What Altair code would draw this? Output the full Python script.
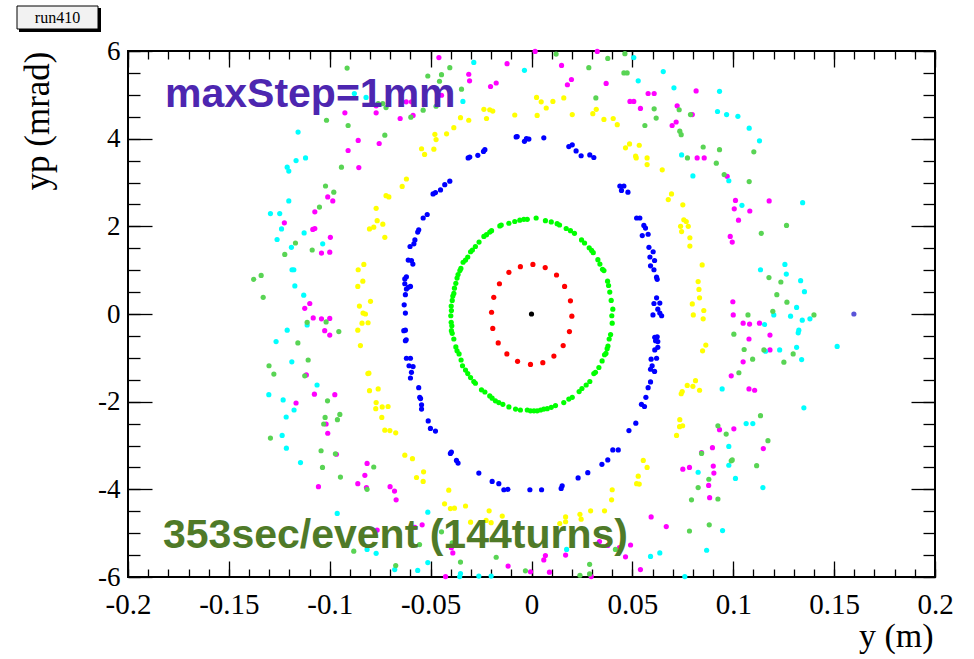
import altair as alt
import pandas as pd

# ---------------- data (y in m, yp in mrad) ----------------
black_pts = [(0.0, 0.0)]

red_pts = [(0.0007, 1.13), (-0.0055, 1.08), (0.0068, 1.06), (-0.0112, 0.95), (0.0124, 0.89),
           (-0.0159, 0.69), (0.0164, 0.63), (-0.0187, 0.38), (0.0193, 0.30), (-0.0198, 0.04),
           (0.0200, -0.05), (-0.0192, -0.33), (0.0188, -0.40), (-0.0165, -0.66), (0.0157, -0.72),
           (-0.0122, -0.91), (0.0111, -0.96), (-0.0069, -1.08), (-0.0005, -1.15), (0.0056, -1.11)]

green_pts = [(0.0023, 2.19), (-0.0021, 2.16), (-0.0038, 2.16), (-0.0058, 2.14), (-0.0083, 2.11),
             (-0.0112, 2.07), (-0.0150, 2.03), (-0.0157, 2.01), (0.0069, 2.13), (0.0098, 2.10),
             (0.0127, 2.06), (0.0139, 2.03), (0.0172, 1.95), (0.0193, 1.90), (0.0213, 1.84),
             (0.0248, 1.69), (0.0263, 1.62), (0.0286, 1.51), (0.0298, 1.45), (0.0306, 1.40),
             (0.0329, 1.24), (0.0339, 1.14), (0.0352, 1.02), (0.0359, 0.99), (0.0377, 0.75),
             (0.0382, 0.65), (0.0388, 0.50), (0.0395, 0.31), (0.0403, 0.11), (0.0398, -0.04),
             (0.0400, -0.21), (0.0392, -0.47), (0.0385, -0.57), (0.0379, -0.73), (0.0375, -0.79),
             (0.0369, -0.90), (0.0362, -0.93), (0.0350, -1.07), (0.0334, -1.22), (0.0317, -1.33),
             (0.0309, -1.36), (0.0289, -1.54), (0.0271, -1.62), (0.0250, -1.70), (0.0236, -1.77),
             (0.0202, -1.90), (0.0185, -1.94), (0.0160, -2.02), (0.0119, -2.09), (0.0098, -2.13),
             (0.0078, -2.16), (0.0061, -2.17), (0.0045, -2.19), (0.0028, -2.21), (0.0012, -2.21),
             (-0.0005, -2.21), (-0.0021, -2.19), (-0.0055, -2.19), (-0.0079, -2.17), (-0.0112, -2.12),
             (-0.0142, -2.06), (-0.0162, -2.02), (-0.0179, -1.98), (-0.0195, -1.92), (-0.0207, -1.87),
             (-0.0231, -1.78), (-0.0248, -1.73), (-0.0278, -1.58), (-0.0286, -1.54), (-0.0302, -1.45),
             (-0.0316, -1.36), (-0.0327, -1.28), (-0.0342, -1.18), (-0.0349, -1.05), (-0.0359, -0.91),
             (-0.0369, -0.84), (-0.0375, -0.75), (-0.0385, -0.57), (-0.0393, -0.44), (-0.0397, -0.38),
             (-0.0395, -0.27), (-0.0398, -0.19), (-0.0400, -0.04), (-0.0397, 0.08), (-0.0398, 0.18),
             (-0.0393, 0.31), (-0.0390, 0.41), (-0.0385, 0.47), (-0.0382, 0.59), (-0.0375, 0.70),
             (-0.0369, 0.82), (-0.0364, 0.90), (-0.0355, 0.99), (-0.0350, 1.04), (-0.0339, 1.18),
             (-0.0327, 1.23), (-0.0316, 1.30), (-0.0302, 1.42), (-0.0293, 1.46), (-0.0278, 1.54),
             (-0.0260, 1.64), (-0.0236, 1.77), (-0.0223, 1.81), (-0.0207, 1.87), (-0.0198, 1.90)]

blue_pts = [(-0.0076, 4.04), (-0.0071, 4.05), (-0.0035, 3.94), (-0.0025, 4.00), (-0.0013, 3.99),
            (-0.0231, 3.75), (-0.0238, 3.71), (-0.0266, 3.62), (-0.0306, 3.58), (-0.0314, 3.56),
            (-0.0405, 3.03), (-0.0430, 2.95), (-0.0451, 2.83), (-0.0476, 2.77), (-0.0488, 2.74),
            (-0.0517, 2.27), (-0.0537, 2.19), (-0.0559, 1.92), (-0.0564, 1.87), (-0.0578, 1.69),
            (-0.0583, 1.60), (-0.0602, 1.54), (-0.0611, 1.23), (-0.0595, 1.22), (-0.0588, 1.14),
            (-0.0620, 0.85), (-0.0628, 0.80), (-0.0628, 0.69), (-0.0600, 0.63), (-0.0610, 0.61),
            (-0.0620, 0.57), (-0.0625, 0.44), (-0.0631, 0.21), (-0.0625, 0.02),
            (-0.0633, -0.38), (-0.0625, -0.37), (-0.0621, -0.59), (-0.0625, -0.61), (-0.0620, -1.01),
            (-0.0600, -1.01), (-0.0607, -1.18), (-0.0587, -1.20), (-0.0595, -1.33), (-0.0600, -1.46),
            (-0.0559, -1.68), (-0.0554, -1.90), (-0.0550, -1.93), (-0.0545, -2.07), (-0.0545, -2.17),
            (-0.0512, -2.44), (-0.0501, -2.61), (-0.0476, -2.67), (-0.0397, -3.15), (-0.0402, -3.18),
            (-0.0372, -3.34), (-0.0364, -3.40), (-0.0261, -3.63), (-0.0195, -3.82), (-0.0162, -3.87),
            (-0.0137, -4.01), (-0.0117, -4.00), (-0.0008, -4.01),
            (0.0061, 4.02), (0.0185, 3.82), (0.0202, 3.86), (0.0221, 3.72), (0.0246, 3.61),
            (0.0289, 3.63), (0.0309, 3.57), (0.0438, 2.92), (0.0458, 2.92), (0.0446, 2.82),
            (0.0478, 2.78), (0.0521, 2.19), (0.0537, 2.19), (0.0557, 2.02), (0.0565, 1.96),
            (0.0549, 1.79), (0.0578, 1.82), (0.0582, 1.52), (0.0603, 1.42), (0.0587, 1.30),
            (0.0610, 1.22), (0.0590, 1.10), (0.0607, 1.01), (0.0620, 0.84), (0.0623, 0.79),
            (0.0620, 0.37), (0.0636, 0.25), (0.0607, 0.24), (0.0626, 0.11), (0.0636, 0.02),
            (0.0645, -0.04), (0.0602, -0.02),
            (0.0611, -0.53), (0.0623, -0.52), (0.0615, -0.61), (0.0626, -0.63), (0.0611, -0.82),
            (0.0626, -0.76), (0.0620, -1.01), (0.0593, -1.03), (0.0590, -1.26), (0.0598, -1.18),
            (0.0610, -1.31), (0.0590, -1.55), (0.0578, -1.68), (0.0567, -1.90), (0.0545, -2.06),
            (0.0560, -2.11), (0.0517, -2.49), (0.0483, -2.66), (0.0403, -3.10), (0.0430, -3.10),
            (0.0378, -3.33), (0.0349, -3.43), (0.0279, -3.62), (0.0231, -3.74), (0.0152, -3.92),
            (0.0147, -3.98), (0.0050, -4.01)]

yellow_pts = [(0.0025, 4.94), (0.0028, 4.53), (-0.0083, 4.54), (-0.0236, 4.67), (-0.0207, 4.66),
              (-0.0192, 4.63), (-0.0223, 4.46), (-0.0311, 4.42), (-0.0352, 4.48), (-0.0385, 4.25),
              (-0.0421, 4.11), (-0.0479, 4.10), (-0.0473, 3.98), (-0.0484, 3.76), (-0.0530, 3.64),
              (-0.0545, 3.77), (-0.0620, 3.08), (-0.0641, 2.91), (-0.0721, 2.70), (-0.0707, 2.67),
              (-0.0770, 2.41), (-0.0765, 2.13), (-0.0737, 2.05), (-0.0782, 1.98), (-0.0803, 1.94),
              (-0.0727, 1.75), (-0.0831, 1.13), (-0.0859, 1.01), (-0.0836, 0.75), (-0.0861, 0.63),
              (-0.0798, 0.29), (-0.0853, 0.18), (-0.0835, 0.02), (-0.0823, 0.00),
              (-0.0810, -0.20), (-0.0840, -0.21), (-0.0861, -0.37), (-0.0848, -0.72), (-0.0806, -1.35),
              (-0.0811, -1.36), (-0.0803, -1.75), (-0.0760, -1.71), (-0.0770, -2.02), (-0.0772, -2.16),
              (-0.0740, -2.12), (-0.0711, -2.11), (-0.0742, -2.36), (-0.0727, -2.65), (-0.0702, -2.66),
              (-0.0673, -2.71), (-0.0628, -3.22), (-0.0590, -3.30), (-0.0570, -3.73), (-0.0535, -3.60),
              (-0.0537, -3.82), (-0.0410, -4.02), (-0.0431, -4.33), (-0.0402, -4.44), (-0.0382, -4.43),
              (-0.0327, -4.38), (-0.0302, -4.75), (-0.0225, -4.71), (-0.0210, -4.49), (-0.0200, -4.76),
              (-0.0145, -4.61),
              (0.0048, 4.84), (0.0073, 4.70), (0.0106, 4.85), (0.0160, 4.93), (0.0202, 4.55),
              (0.0304, 4.57), (0.0321, 4.67), (0.0359, 4.44), (0.0405, 4.46), (0.0425, 4.32),
              (0.0466, 3.79), (0.0486, 3.88), (0.0534, 3.85), (0.0516, 3.60), (0.0519, 3.56),
              (0.0573, 3.56), (0.0573, 3.41), (0.0648, 3.29), (0.0694, 2.74), (0.0678, 2.61),
              (0.0750, 2.49), (0.0755, 2.15), (0.0767, 2.11), (0.0739, 2.00), (0.0777, 2.00),
              (0.0744, 1.88), (0.0785, 1.74), (0.0785, 1.55), (0.0846, 1.12), (0.0826, 0.74),
              (0.0830, 0.56), (0.0833, 0.37), (0.0797, 0.23), (0.0854, 0.08), (0.0802, -0.02),
              (0.0851, -0.11),
              (0.0864, -0.71), (0.0848, -0.84), (0.0813, -1.52), (0.0800, -1.65), (0.0772, -1.63),
              (0.0833, -1.74), (0.0747, -1.77), (0.0742, -1.82), (0.0735, -2.41), (0.0734, -2.57),
              (0.0749, -2.55), (0.0719, -2.77), (0.0554, -3.34), (0.0573, -3.50), (0.0529, -3.70),
              (0.0521, -3.87), (0.0534, -3.88), (0.0400, -4.01), (0.0397, -4.24), (0.0362, -4.49),
              (0.0293, -4.49), (0.0240, -4.57), (0.0246, -4.68), (0.0169, -4.63), (0.0169, -4.74),
              (0.0140, -4.78)]

magenta_pts = [(-0.0459, 5.85), (-0.0311, 5.47), (-0.0307, 5.32), (-0.0203, 5.19), (-0.0175, 5.27),
               (-0.0121, 5.71), (0.0018, 5.99), (-0.0621, 4.84), (-0.0595, 4.84), (-0.0446, 4.99),
               (-0.0770, 4.75), (-0.0770, 4.59), (-0.0925, 4.59), (-0.0651, 4.46), (-0.0587, 4.53),
               (-0.0859, 3.96), (-0.0755, 3.89), (-0.0909, 3.73), (-0.0856, 3.34), (-0.1010, 2.67),
               (-0.0985, 2.58), (-0.1074, 2.33), (-0.1225, 2.08), (-0.1084, 1.93), (-0.1074, 1.95),
               (-0.0997, 1.75), (-0.1041, 1.39), (-0.1000, 1.41), (-0.1099, 0.24), (-0.1124, 0.13),
               (-0.1082, -0.09), (-0.1041, -0.11), (-0.1000, -0.10),
               (-0.1025, -0.38), (-0.1000, -0.48), (-0.1116, -1.39), (-0.1167, -2.03), (-0.1076, -1.83),
               (-0.0975, -1.84), (-0.1018, -2.51), (-0.1010, -2.72), (-0.0967, -3.20), (-0.0815, -3.41),
               (-0.0826, -3.68), (-0.0818, -3.96), (-0.0861, -3.87), (-0.1056, -3.94), (-0.0701, -3.94),
               (-0.0679, -4.04), (-0.0671, -4.24), (-0.0765, -4.93), (-0.0578, -4.87), (-0.0542, -4.81),
               (-0.0397, -5.33), (-0.0390, -5.45), (-0.0426, -5.99), (-0.0116, -5.75),
               (0.0149, 5.67), (0.0326, 5.99), (0.0198, 5.35), (0.0178, 5.23), (0.0370, 5.26),
               (0.0578, 5.03), (0.0608, 5.03), (0.0488, 4.85), (0.0507, 4.85), (0.0540, 4.69),
               (0.0722, 4.75), (0.0816, 5.09), (0.0797, 4.55), (0.0697, 4.30), (0.0717, 4.38),
               (0.0821, 3.56), (0.0856, 3.56), (0.0970, 3.14), (0.1011, 2.59), (0.1005, 2.40),
               (0.1178, 2.58), (0.1082, 2.35), (0.1026, 2.14), (0.0985, 1.77), (0.0995, 1.64),
               (0.0998, 0.28), (0.1000, -0.02),
               (0.1049, -0.21), (0.1081, -0.23), (0.1130, -0.21), (0.1182, -0.48), (0.1078, -0.57),
               (0.1182, -0.82), (0.1049, -1.09), (0.0990, -1.41), (0.1078, -1.71), (0.1106, -1.74),
               (0.0932, -2.64), (0.1003, -2.62), (0.0897, -3.05), (0.1149, -3.07), (0.0843, -3.16),
               (0.0901, -3.47), (0.0750, -3.54), (0.0783, -3.50), (0.0904, -3.63), (0.0878, -3.91),
               (0.0883, -4.19), (0.0593, -4.63), (0.0668, -4.85), (0.0337, -5.19), (0.0378, -5.28),
               (0.0436, -5.33), (0.0491, -5.27), (0.0466, -5.54), (0.0069, -5.51), (0.0061, -5.61),
               (0.0169, -5.50), (0.0540, -5.83), (-0.0005, -5.88), (0.0089, -5.89), (0.0296, -5.99)]

cyan_pts = [(-0.0286, 5.74), (-0.0035, 5.56), (-0.0340, 4.85), (-0.0878, 5.03), (-0.0820, 4.94),
            (-0.1157, 4.15), (-0.1167, 3.50), (-0.1120, 3.56), (-0.1211, 3.35), (-0.1203, 3.26),
            (-0.1203, 2.58), (-0.1294, 2.29), (-0.1248, 2.29), (-0.1239, 1.94), (-0.1261, 1.70),
            (-0.1127, 1.85), (-0.1190, 1.52), (-0.1035, 1.60), (-0.1187, 1.01), (-0.1178, 1.01),
            (-0.1173, 0.64), (-0.1129, 0.43),
            (-0.1112, -0.25), (-0.1211, -0.37), (-0.1266, -0.63), (-0.1188, -1.09), (-0.1063, -1.62),
            (-0.1302, -1.84), (-0.1231, -1.96), (-0.1177, -2.19), (-0.1216, -2.35), (-0.1236, -2.77),
            (-0.1215, -3.06), (-0.1145, -3.39), (-0.0963, -4.55), (-0.0514, -4.52), (-0.0815, -5.37),
            (-0.0770, -5.46), (-0.0678, -5.83), (-0.0564, -5.85), (-0.0514, -5.67), (-0.0352, -5.92),
            (-0.0356, -5.99), (-0.0261, -5.98), (-0.0200, -5.98),
            (0.0507, 5.85), (0.0653, 5.53), (0.0529, 5.32), (0.0706, 5.16), (0.0932, 5.08),
            (0.0922, 4.62), (0.0967, 4.55), (0.1023, 4.51), (0.1079, 4.24), (0.1130, 3.95),
            (0.0744, 3.63), (0.0800, 3.15), (0.0978, 3.04), (0.1043, 2.48), (0.1344, 2.54),
            (0.1256, 1.13), (0.1135, 1.01), (0.1263, 0.91), (0.1334, 0.76), (0.1353, 0.51),
            (0.1314, 0.15), (0.1284, -0.05), (0.1201, -0.02), (0.1342, -0.14), (0.1380, -0.11),
            (0.1155, -0.24), (0.1325, -0.37), (0.1322, -0.43), (0.1314, -0.76), (0.1339, -1.04),
            (0.1230, -0.82), (0.1160, -0.85), (0.1515, -0.74), (0.0945, -1.71), (0.1350, -2.14),
            (0.1064, -2.50), (0.1097, -2.50), (0.0978, -3.02), (0.0978, -3.45), (0.0826, -3.61),
            (0.1011, -3.75), (0.1147, -3.96), (0.0947, -4.94), (0.0868, -5.39), (0.0636, -5.45),
            (0.0590, -5.53), (0.0174, -5.37), (0.0760, -5.99)]

lightgreen_pts = [(-0.0914, 5.61), (-0.0514, 5.43), (-0.0446, 5.46), (-0.0456, 5.31), (-0.0405, 5.62),
                  (-0.0347, 5.13), (-0.0760, 4.80), (-0.0737, 4.80), (-0.0721, 4.71), (-0.0537, 4.65),
                  (-0.0598, 4.49), (-0.0473, 4.74), (-0.1016, 4.42), (-0.0909, 4.30), (-0.0727, 4.08),
                  (-0.0942, 3.35), (-0.1021, 2.92), (-0.0980, 2.78), (-0.1051, 2.44), (-0.1170, 1.62),
                  (-0.1087, 1.46), (-0.1223, 1.36), (-0.1377, 0.79), (-0.1340, 0.88), (-0.1330, 0.38),
                  (-0.1112, -0.19), (-0.1018, -0.18), (-0.0955, -0.40), (-0.1158, -0.66), (-0.1107, -1.05),
                  (-0.1301, -1.18), (-0.1277, -1.37), (-0.1124, -1.41), (-0.1011, -1.98), (-0.1023, -2.36),
                  (-0.1030, -2.51), (-0.0962, -2.41), (-0.0950, -2.29), (-0.1294, -2.83), (-0.1043, -3.12),
                  (-0.0972, -3.19), (-0.1036, -3.50), (-0.0947, -3.72), (-0.0782, -3.49), (-0.0815, -4.00),
                  (-0.0881, -5.41), (-0.0673, -5.74), (-0.0555, -5.26), (-0.0446, -4.97), (-0.0393, -5.22),
                  (-0.0352, -5.66), (-0.0175, -5.55), (-0.0030, -5.86),
                  (0.0122, 5.93), (0.0463, 5.94), (0.0378, 5.83), (0.0284, 5.62), (0.0458, 5.50),
                  (0.0474, 5.50), (0.0319, 4.93), (0.0608, 4.68), (0.0618, 4.47), (0.0562, 4.30),
                  (0.0732, 4.66), (0.0788, 4.55), (0.0735, 4.17), (0.0742, 4.09), (0.0851, 3.81),
                  (0.0932, 3.75), (0.0773, 3.56), (0.0916, 3.44), (0.0955, 3.18), (0.1079, 3.02),
                  (0.1102, 3.70), (0.1139, 1.84), (0.1264, 2.02), (0.1177, 0.83), (0.1236, 0.73),
                  (0.1216, 0.44), (0.1266, 0.27), (0.1196, 0.06), (0.1073, -0.02), (0.1400, -0.02),
                  (0.1003, -0.46), (0.1054, -0.81), (0.1096, -1.03), (0.1152, -0.82), (0.1251, -1.10),
                  (0.1297, -0.91), (0.1028, -1.34), (0.1135, -2.32), (0.0965, -2.74), (0.0924, -2.55),
                  (0.1172, -2.89), (0.0843, -3.18), (0.0990, -3.35), (0.0995, -3.33), (0.1116, -3.46),
                  (0.0879, -3.77), (0.0826, -3.96), (0.0793, -4.24), (0.0924, -4.22), (0.0881, -4.81),
                  (0.0783, -4.95), (0.0416, -5.37), (0.0288, -5.71), (0.0240, -5.96), (0.0288, -5.93)]

violet_pts = [(0.1598, 0.0)]

series_names = ["black", "red", "green", "blue", "yellow", "magenta", "cyan", "lightgreen", "violet"]
series_colors = ["#000000", "#ff0000", "#00ff00", "#0000ff", "#ffff00", "#ff00ff", "#00ffff",
                 "#59d454", "#5954d8"]
series_points = [black_pts, red_pts, green_pts, blue_pts, yellow_pts, magenta_pts, cyan_pts,
                 lightgreen_pts, violet_pts]

x_major = [-0.2, -0.15, -0.1, -0.05, 0, 0.05, 0.1, 0.15, 0.2]
x_minor = [round(-0.2 + 0.01 * i, 2) for i in range(41)]
y_major = [-6, -4, -2, 0, 2, 4, 6]
y_minor = [-6 + 0.5 * i for i in range(25)]

x_title = "y (m)"
y_title = "yp (mrad)"
label_step = "maxStep=1mm"
label_time = "353sec/event (144turns)"
hist_name = "run410"

rows = []
for k, (name, pts) in enumerate(zip(series_names, series_points)):
    for (xv, yv) in pts:
        rows.append({"y_m": xv, "yp": yv, "series": name, "k": k})
df = pd.DataFrame(rows)

# ---------------- layout ----------------
W, H = 807, 526
SERIF = "Liberation Serif"
SANS = "Liberation Sans"

xs = alt.Scale(domain=[-0.2, 0.2], nice=False, zero=False)
ys = alt.Scale(domain=[-6, 6], nice=False, zero=False)
lab_expr = "'' + datum.value"


def tick_axis(orient, values, size, offset):
    return alt.Axis(orient=orient, values=values, offset=offset, labels=False, domain=False,
                    ticks=True, tickSize=size, tickWidth=1.3, tickColor="black", grid=False,
                    title=None)


def tick_layer(xo, xv, xsz, yo, yv, ysz):
    return alt.Chart(df).mark_circle(opacity=0, size=1).encode(
        x=alt.X("y_m:Q", scale=xs, axis=tick_axis(xo, xv, xsz, -H)),
        y=alt.Y("yp:Q", scale=ys, axis=tick_axis(yo, yv, ysz, -W)),
    )


t1 = tick_layer("top", x_major, 16, "right", y_major, 24)     # bottom/left inward major
t2 = tick_layer("top", x_minor, 8, "right", y_minor, 12)      # bottom/left inward minor
t3 = tick_layer("bottom", x_major, 16, "left", y_major, 24)   # top/right inward major
t4 = tick_layer("bottom", x_minor, 8, "left", y_minor, 12)    # top/right inward minor

points = alt.Chart(df).mark_circle(size=27, opacity=1).encode(
    x=alt.X("y_m:Q", scale=xs, axis=alt.Axis(
        orient="bottom", values=x_major, labelExpr=lab_expr, ticks=False, tickSize=0,
        domain=False, grid=False, labelFont=SERIF, labelFontSize=29, labelColor="black",
        labelPadding=13, labelFlush=False, labelOverlap=False,
        title=x_title, titleFont=SERIF, titleFontSize=34, titleFontWeight="normal",
        titleColor="black", titleX=805, titleY=69, titleAlign="right",
        titleBaseline="alphabetic")),
    y=alt.Y("yp:Q", scale=ys, axis=alt.Axis(
        orient="left", values=y_major, labelExpr=lab_expr, ticks=False, tickSize=0,
        domain=False, grid=False, labelFont=SERIF, labelFontSize=27, labelColor="black",
        labelPadding=8, labelFlush=False, labelOverlap=False,
        title=y_title, titleFont=SERIF, titleFontSize=35, titleFontWeight="normal",
        titleColor="black", titleX=-80, titleY=0, titleAngle=270, titleAlign="right",
        titleBaseline="alphabetic")),
    color=alt.Color("series:N", scale=alt.Scale(domain=series_names, range=series_colors),
                    legend=None),
    order=alt.Order("k:Q"),
)

one = pd.DataFrame({"v": [0]})
box_shadow = alt.Chart(one).mark_rect(color="black").encode(
    x=alt.value(-109), x2=alt.value(-27), y=alt.value(-43), y2=alt.value(-19))
box = alt.Chart(one).mark_rect(fill="#f2f2f2", stroke="black", strokeWidth=1).encode(
    x=alt.value(-111), x2=alt.value(-30), y=alt.value(-45), y2=alt.value(-22))
box_text = alt.Chart(one).mark_text(font=SERIF, fontSize=16, color="black", align="center",
                                    baseline="middle").encode(
    x=alt.value(-70.5), y=alt.value(-33), text=alt.value(hist_name))

txt_step = alt.Chart(one).mark_text(font=SANS, fontSize=41, fontWeight="bold", color="#4d26b0",
                                    align="left", baseline="alphabetic").encode(
    x=alt.value(37), y=alt.value(56), text=alt.value(label_step))
txt_time = alt.Chart(one).mark_text(font=SANS, fontSize=41, fontWeight="bold", color="#4f7a28",
                                    align="left", baseline="alphabetic").encode(
    x=alt.value(35), y=alt.value(497), text=alt.value(label_time))

chart = alt.layer(
    t1, t2, t3, t4, points, box_shadow, box, box_text, txt_step, txt_time
).resolve_axis(x="independent", y="independent").properties(
    width=W, height=H,
    autosize=alt.AutoSizeParams(type="none"),
    padding={"left": 128, "top": 51, "right": 39, "bottom": 82},
    background="white",
).configure_view(stroke="black", strokeWidth=2)

chart.save("out.html", embed_options={"renderer": "svg", "actions": False})
